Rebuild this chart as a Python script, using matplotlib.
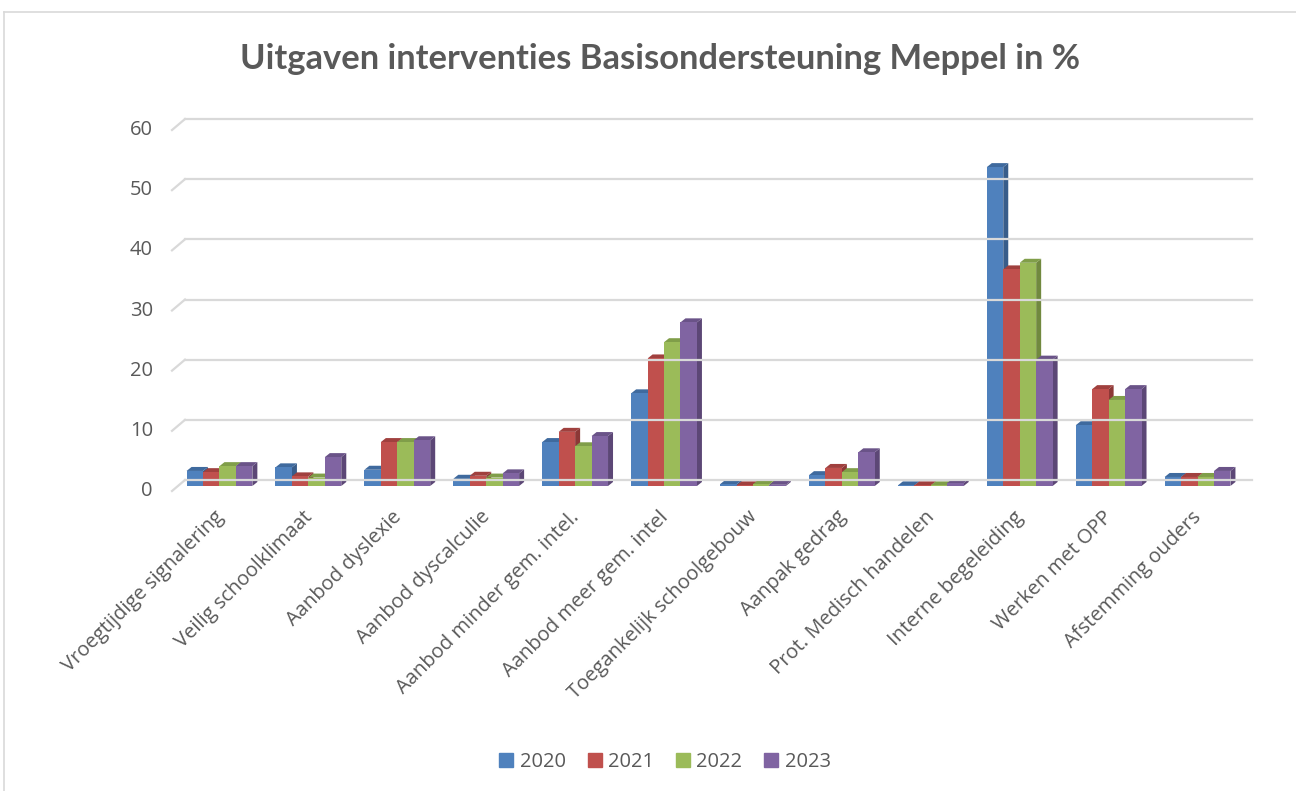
import numpy as np
import matplotlib.pyplot as plt
from matplotlib.patches import Polygon, Patch
from matplotlib.lines import Line2D
from matplotlib.transforms import IdentityTransform, ScaledTranslation

categories = ["Vroegtijdige signalering", "Veilig schoolklimaat", "Aanbod dyslexie",
              "Aanbod dyscalculie", "Aanbod minder gem. intel.", "Aanbod meer gem. intel",
              "Toegankelijk schoolgebouw", "Aanpak gedrag", "Prot. Medisch handelen",
              "Interne begeleiding", "Werken met OPP", "Afstemming ouders"]
years = ["2020", "2021", "2022", "2023"]
v2020 = [2.5, 3.1, 2.7, 1.2, 7.3, 15.4, 0.3, 1.8, 0.1, 53.0, 10.1, 1.5]
v2021 = [2.3, 1.6, 7.3, 1.7, 9.0, 21.2, 0.1, 3.0, 0.1, 36.0, 16.1, 1.5]
v2022 = [3.3, 1.4, 7.3, 1.4, 6.6, 23.9, 0.3, 2.3, 0.1, 37.1, 14.3, 1.5]
v2023 = [3.3, 4.8, 7.6, 2.1, 8.3, 27.2, 0.2, 5.6, 0.5, 21.0, 16.1, 2.5]
series = [v2020, v2021, v2022, v2023]
yticks = [0, 10, 20, 30, 40, 50, 60]

front = ["#4F81BD", "#C0504D", "#9BBB59", "#8064A2"]
side = ["#385D8A", "#8C3836", "#71893F", "#5C4776"]
top = ["#3F6A9E", "#A0403E", "#809E49", "#6A5388"]
txt = "#595959"

W, H = 1296, 791
fig = plt.figure(figsize=(W / 100, H / 100), dpi=100)
ax = fig.add_axes([175 / W, 1 - 486 / H, (1242 - 175) / W, (486 - 125) / H])
ax.set_xlim(-0.5, len(categories) - 0.5)
ax.set_ylim(0, 60)
ax.axis("off")

# frame lines of the chart area
fig.add_artist(Line2D([4, 4], [0, H - 12], color="#D9D9D9", lw=1.2, transform=IdentityTransform()))
fig.add_artist(Line2D([4, W], [H - 12, H - 12], color="#D9D9D9", lw=1.2, transform=IdentityTransform()))

fig.text(660 / W, 1 - 59 / H, "Uitgaven interventies Basisondersteuning Meppel in %",
         ha="center", va="center", fontsize=24.8, fontweight="bold", color=txt, family="Lato")

# pseudo-3D gridlines (back wall + floor edge)
T = ax.transData
x0, x1 = -0.5, len(categories) - 0.5
for v in yticks:
    bl = T.transform((x0, v))
    br = T.transform((x1, v))
    fig.add_artist(Line2D([bl[0] + 10, br[0] + 10], [bl[1] + 6, br[1] + 6], color="#D9D9D9",
                          lw=1.6, transform=IdentityTransform(), zorder=1))
    fig.add_artist(Line2D([bl[0] - 3, bl[0] + 10], [bl[1] - 5, bl[1] + 6], color="#D9D9D9",
                          lw=1.6, transform=IdentityTransform(), zorder=1))
    fig.text(bl[0] - 22, bl[1] - 5, str(v), ha="right", va="center", fontsize=14.5,
             color=txt, family="Open Sans", transform=IdentityTransform())

# bars with depth faces
px_x = T.transform((1, 0))[0] - T.transform((0, 0))[0]
px_y = T.transform((0, 10))[1] - T.transform((0, 0))[1]
dx = 5 / px_x
dy = 4 / (px_y / 10)
w = 0.185
x = np.arange(len(categories))
z = 3
for c in range(len(categories)):
    for i, vals in enumerate(series):
        h = vals[c]
        l = x[c] + (i - 1.5) * w - w / 2
        r = l + w
        ax.add_patch(Polygon([(r, 0), (r + dx, dy), (r + dx, h + dy), (r, h)],
                             closed=True, fc=side[i], ec="none", zorder=z))
        ax.add_patch(Polygon([(l, h), (r, h), (r + dx, h + dy), (l + dx, h + dy)],
                             closed=True, fc=top[i], ec="none", zorder=z))
        ax.bar(l + w / 2, h, w, color=front[i], zorder=z + 0.5)
        z += 1

# category labels
lab_tr = ax.transData + ScaledTranslation(-6 / 100, -21 / 100, fig.dpi_scale_trans)
for c, name in enumerate(categories):
    ax.text(x[c], 0, name, rotation=45, ha="right", va="top", rotation_mode="anchor",
            fontsize=14.5, color=txt, family="Open Sans", transform=lab_tr, clip_on=False)

handles = [Patch(color=front[i], label=years[i]) for i in range(4)]
leg = fig.legend(handles=handles, loc="center", bbox_to_anchor=(665 / W, 1 - 762 / H), ncol=4,
                 frameon=False, handlelength=0.7, handleheight=0.7, handletextpad=0.3,
                 columnspacing=1.1, prop={"family": "Open Sans", "size": 14.5})
for t in leg.get_texts():
    t.set_color(txt)

fig.savefig("out.png", dpi=100)
